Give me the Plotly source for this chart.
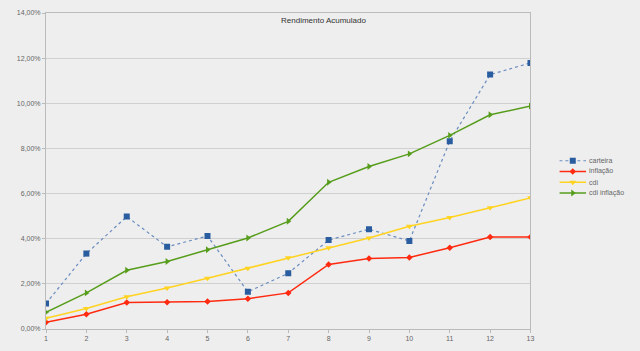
import plotly.graph_objects as go

x = list(range(1, 14))
carteira = [1.13, 3.34, 4.98, 3.64, 4.12, 1.65, 2.47, 3.94, 4.42, 3.90, 8.32, 11.27, 11.79]
inflacao = [0.30, 0.65, 1.17, 1.18, 1.22, 1.34, 1.60, 2.86, 3.12, 3.17, 3.60, 4.08, 4.08]
cdi = [0.48, 0.91, 1.43, 1.82, 2.25, 2.69, 3.16, 3.60, 4.03, 4.55, 4.94, 5.37, 5.81]
cdi_inflacao = [0.74, 1.60, 2.60, 2.99, 3.51, 4.03, 4.77, 6.50, 7.20, 7.76, 8.58, 9.49, 9.88]
names = ["carteira", "inflação", "cdi", "cdi inflação"]
yticks = [0, 2, 4, 6, 8, 10, 12, 14]
ytext = ["0,00%", "2,00%", "4,00%", "6,00%", "8,00%", "10,00%", "12,00%", "14,00%"]

series = [carteira, inflacao, cdi, cdi_inflacao]
styles = [
    dict(line=dict(color="#6a8cc0", width=1.2, dash="dot"), marker=dict(symbol="square", size=6, color="#2a5d9f")),
    dict(line=dict(color="#ff2a10", width=1.5), marker=dict(symbol="diamond", size=5, color="#ff2a10")),
    dict(line=dict(color="#ffd320", width=1.5), marker=dict(symbol="triangle-down", size=6, color="#ffd320")),
    dict(line=dict(color="#579d1c", width=1.5), marker=dict(symbol="triangle-right", size=6, color="#579d1c")),
]

L, R, T, B = 46, 10, 9, 19
PW = 640 - L - R
PH = 351 - T - B


def px(v):
    return (v - L) / PW


def py(v):
    return (351 - B - v) / PH


fig = go.Figure()
for name, ys, st in zip(names, series, styles):
    fig.add_trace(go.Scatter(x=x, y=ys, name=name, mode="lines+markers",
                             showlegend=False, **st))

# compact legend drawn on a hidden overlay axis
for i, st in enumerate(styles):
    fig.add_trace(go.Scatter(x=[0, 1, 2], y=[-i, -i, -i], mode="lines",
                             line=st["line"], xaxis="x2", yaxis="y2",
                             showlegend=False, hoverinfo="skip"))
    fig.add_trace(go.Scatter(x=[1], y=[-i], mode="markers", marker=st["marker"],
                             xaxis="x2", yaxis="y2", showlegend=False, hoverinfo="skip"))

fig.update_layout(
    width=640, height=351,
    margin=dict(l=L, r=R, t=T, b=B),
    paper_bgcolor="#eeeeee", plot_bgcolor="#eeeeee",
    font=dict(family="Liberation Sans", size=7, color="#666666"),
    showlegend=False,
    xaxis=dict(domain=[0, px(533)], range=[1, 13], tickvals=x, showgrid=False,
               showline=True, linecolor="#bbbbbb", mirror=True, ticks="outside",
               ticklen=3, tickcolor="#bbbbbb", zeroline=False),
    yaxis=dict(range=[0, 14], tickvals=yticks, ticktext=ytext, showgrid=True,
               gridcolor="#d0d0d0", showline=True, linecolor="#bbbbbb", mirror=True,
               ticks="outside", ticklen=3, tickcolor="#bbbbbb", zeroline=False),
    xaxis2=dict(domain=[px(562), px(589)], range=[0, 2],
                anchor="y2", visible=False, fixedrange=True),
    yaxis2=dict(domain=[py(198.5), py(154.5)], range=[-3.5, 0.5],
                anchor="x2", visible=False, fixedrange=True),
    annotations=[dict(text="Rendimento Acumulado", xref="paper", yref="paper",
                      x=px(325), y=py(17), xanchor="center", yanchor="middle",
                      showarrow=False, font=dict(size=8, color="#333333"))]
    + [dict(text=n, xref="paper", yref="paper", x=px(590),
            y=py(160 + 11 * i), xanchor="left", yanchor="middle",
            showarrow=False, font=dict(size=7, color="#666666"))
       for i, n in enumerate(names)],
)

fig.write_html("out.html")
